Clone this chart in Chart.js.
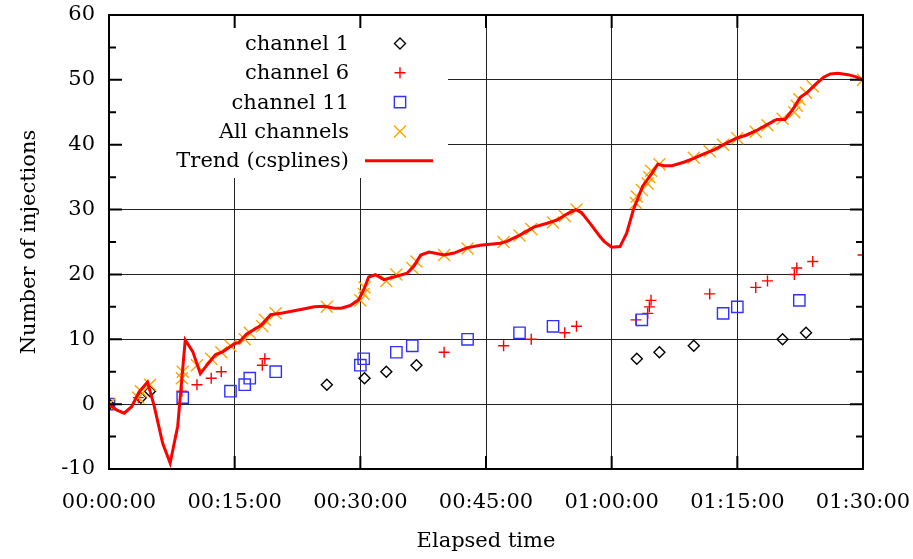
<!DOCTYPE html>
<html>
<head>
<meta charset="utf-8">
<script src="https://cdn.jsdelivr.net/npm/chart.js@4/dist/chart.umd.min.js"></script>
<style>
  html, body { margin: 0; padding: 0; background: #fff; }
  canvas { display: block; }
</style>
</head>
<body>
<canvas id="injChart" width="913" height="559"></canvas>
<script>
// elapsed time in minutes, counts
const ch1Times  = [0, 3.8, 4.9, 26.0, 30.5, 33.1, 36.7, 63.0, 65.7, 69.8, 80.4, 83.2];
const ch1Counts = [0, 1, 2, 3, 4, 5, 6, 7, 8, 9, 10, 11];

const ch6Times  = [0, 3.5, 8.7, 10.5, 12.2, 13.4, 18.3, 18.6, 40.0, 47.1, 50.4, 54.4, 55.8,
                   62.9, 64.3, 64.5, 64.7, 71.7, 77.2, 78.6, 81.8, 82.1, 84.0, 90.0];
const ch6Counts = [0, 1, 2, 3, 4, 5, 6, 7, 8, 9, 10, 11, 12,
                   13, 14, 15, 16, 17, 18, 19, 20, 21, 22, 23];

const ch11Times  = [0, 8.8, 14.5, 16.2, 16.8, 19.9, 30.0, 30.4, 34.3, 36.2, 42.8, 49.0, 53.0,
                    63.6, 73.3, 75.0, 82.4];
const ch11Counts = [0, 1, 2, 3, 4, 5, 6, 7, 8, 9, 10, 11, 12,
                    13, 14, 15, 16];

const allTimes  = [0, 3.5, 3.8, 4.9, 8.7, 8.8, 10.5, 12.2, 13.4, 14.5, 16.2, 16.8, 18.3, 18.6, 19.9,
                   26.0, 30.0, 30.4, 30.5, 33.1, 34.3, 36.2, 36.7, 40.0, 42.8, 47.1, 49.0, 50.4,
                   53.0, 54.4, 55.8, 62.9, 63.0, 63.6, 64.3, 64.5, 64.7, 65.7, 69.8, 71.7, 73.3,
                   75.0, 77.2, 78.6, 80.4, 81.8, 82.1, 82.4, 83.2, 84.0, 90.0];
const allCounts = [0, 1, 2, 3, 4, 5, 6, 7, 8, 9, 10, 11, 12, 13, 14,
                   15, 16, 17, 18, 19, 20, 21, 22, 23, 24, 25, 26, 27,
                   28, 29, 30, 31, 32, 33, 34, 35, 36, 37, 38, 39, 40,
                   41, 42, 43, 44, 45, 46, 47, 48, 49, 50];

// trend curve (csplines)
const trendTimes  = [0, 0.9, 1.8, 2.7, 3.6, 4.6, 5.4, 6.4, 7.3, 8.2, 9.1, 10.0, 10.9, 11.8, 12.7,
                     13.6, 14.5, 15.1, 15.5, 16.4, 18.2, 19.3, 20.7, 22.9, 24.5, 25.7, 26.9, 27.7,
                     28.8, 29.8, 30.4, 31.0, 31.8, 32.8, 34.0, 35.6, 36.4, 37.2, 38.2, 40.0, 41.2,
                     42.7, 44.3, 46.7, 47.5, 49.1, 50.7, 52.3, 53.5, 54.7, 55.7, 56.4, 57.4, 58.6,
                     59.1, 60.0, 61.0, 61.8, 62.6, 63.7, 64.8, 65.5, 66.2, 67.2, 68.6, 69.8, 71.0,
                     72.2, 73.7, 74.9, 76.1, 77.3, 78.5, 79.7, 80.7, 81.6, 82.5, 83.3, 84.5, 85.3,
                     86.1, 87.0, 88.2, 89.1, 90.0];
const trendValues = [0, -0.9, -1.4, -0.4, 1.9, 3.4, -0.3, -6.0, -9.1, -3.4, 9.9, 8.1, 4.7, 6.2, 7.6,
                     8.1, 8.9, 9.4, 9.5, 10.8, 12.2, 13.8, 14.05, 14.6, 15.0, 15.1, 14.8, 14.8,
                     15.2, 16.1, 17.6, 19.6, 19.95, 19.2, 19.6, 20.2, 21.3, 23.0, 23.45, 23.0, 23.3,
                     24.1, 24.5, 24.8, 25.1, 26.1, 27.3, 27.9, 28.4, 29.35, 30.0, 29.55, 27.9, 25.85,
                     25.1, 24.2, 24.3, 26.4, 30.0, 33.6, 35.6, 37.0, 36.75, 36.75, 37.3, 37.9, 38.6,
                     39.2, 40.25, 41.0, 41.5, 42.2, 43.05, 43.9, 43.9, 45.4, 47.3, 48.0, 49.5, 50.4,
                     50.9, 51.0, 50.8, 50.5, 50.0];

const xTicks = [0, 15, 30, 45, 60, 75, 90];

const FONT = "'DejaVu Serif', 'Liberation Serif', serif";

function pts(xs, ys) {
  return xs.map((x, i) => ({ x: x, y: ys[i] }));
}

function fmtTime(m) {
  const h = Math.floor(m / 60);
  const mm = m % 60;
  return String(h).padStart(2, '0') + ':' + String(mm).padStart(2, '0') + ':00';
}

const legendItems = [
  { text: 'channel 1', style: 'rectRot', radius: 5.5, color: '#000000' },
  { text: 'channel 6', style: 'cross', radius: 5.5, color: '#ff0000' },
  { text: 'channel 11', style: 'rect', radius: 8, color: '#3030ff' },
  { text: 'All channels', style: 'crossRot', radius: 8.5, color: '#ffa500' },
  { text: 'Trend (csplines)', style: 'line', color: '#ff0000' },
];

// key box drawn over the grid, like gnuplot's opaque key
const keyPlugin = {
  id: 'keyBox',
  beforeDatasetsDraw(chart) {
    const ctx = chart.ctx;
    const a = chart.chartArea;
    ctx.save();
    ctx.fillStyle = '#fff';
    ctx.fillRect(a.left + 1, a.top + 1, 447 - a.left, 177 - a.top);
    ctx.font = '21px ' + FONT;
    ctx.textAlign = 'right';
    ctx.textBaseline = 'middle';
    legendItems.forEach((it, i) => {
      const y = 43.5 + i * 29.3;
      ctx.fillStyle = '#000';
      ctx.fillText(it.text, 349, y + 1);
      if (it.style === 'line') {
        ctx.strokeStyle = it.color;
        ctx.lineWidth = 3;
        ctx.beginPath();
        ctx.moveTo(365, y);
        ctx.lineTo(433, y);
        ctx.stroke();
      } else {
        ctx.strokeStyle = it.color;
        ctx.fillStyle = 'rgba(0,0,0,0)';
        ctx.lineWidth = 1.4;
        Chart.helpers.drawPoint(ctx, { pointStyle: it.style, radius: it.radius, borderWidth: 1.4, rotation: 0 }, 400, y);
      }
    });
    ctx.restore();
  },
  afterDraw(chart) {
    const ctx = chart.ctx;
    const a = chart.chartArea;
    const xs = chart.scales.x, ys = chart.scales.y;
    ctx.save();
    ctx.strokeStyle = '#000';
    ctx.lineWidth = 2;
    ctx.beginPath();
    // major x ticks, inward on bottom and top
    xTicks.forEach(v => {
      const px = xs.getPixelForValue(v);
      ctx.moveTo(px, a.bottom); ctx.lineTo(px, a.bottom - 13);
      ctx.moveTo(px, a.top); ctx.lineTo(px, a.top + 13);
    });
    // y ticks, major every 10, minor every 5
    for (let v = -10; v <= 60; v += 5) {
      const py = ys.getPixelForValue(v);
      const len = (v % 10 === 0) ? 13 : 7;
      ctx.moveTo(a.left, py); ctx.lineTo(a.left + len, py);
      ctx.moveTo(a.right, py); ctx.lineTo(a.right - len, py);
    }
    ctx.stroke();
    ctx.strokeRect(a.left, a.top, a.right - a.left, a.bottom - a.top);
    ctx.restore();
  }
};

const injChart = new Chart(document.getElementById('injChart'), {
  type: 'scatter',
  data: {
    datasets: [
      {
        label: 'Trend (csplines)',
        type: 'line',
        data: pts(trendTimes, trendValues),
        borderColor: '#ff0000',
        borderWidth: 3,
        pointRadius: 0,
        tension: 0,
        fill: false,
        order: 0,
      },
      {
        label: 'All channels',
        data: pts(allTimes, allCounts),
        pointStyle: 'crossRot',
        pointRadius: 8.5,
        borderColor: '#ffa500',
        backgroundColor: 'rgba(0,0,0,0)',
        borderWidth: 1.4,
        order: 1,
      },
      {
        label: 'channel 11',
        data: pts(ch11Times, ch11Counts),
        pointStyle: 'rect',
        pointRadius: 8,
        borderColor: '#3030ff',
        backgroundColor: 'rgba(0,0,0,0)',
        borderWidth: 1.4,
        order: 2,
      },
      {
        label: 'channel 6',
        data: pts(ch6Times, ch6Counts),
        pointStyle: 'cross',
        pointRadius: 5.5,
        borderColor: '#ff0000',
        borderWidth: 1.4,
        order: 3,
      },
      {
        label: 'channel 1',
        data: pts(ch1Times, ch1Counts),
        pointStyle: 'rectRot',
        pointRadius: 5.5,
        borderColor: '#000000',
        backgroundColor: 'rgba(0,0,0,0)',
        borderWidth: 1.4,
        order: 4,
      },
    ],
  },
  options: {
    responsive: false,
    animation: false,
    events: [],
    layout: { padding: { top: 15, right: 50, left: 0, bottom: 0 } },
    plugins: {
      legend: { display: false },
      tooltip: { enabled: false },
    },
    scales: {
      x: {
        type: 'linear',
        min: 0,
        max: 90,
        afterFit(scale) {
          scale.height = 90;
          scale.paddingLeft = 0;
          scale.paddingRight = 0;
        },
        afterBuildTicks(scale) { scale.ticks = xTicks.map(v => ({ value: v })); },
        ticks: {
          callback: v => fmtTime(v),
          color: '#000',
          padding: 21,
          maxRotation: 0,
          autoSkip: false,
          font: { family: FONT, size: 21 },
        },
        grid: { color: '#222', lineWidth: 1, drawTicks: false },
        border: { display: false },
        title: {
          display: true,
          text: 'Elapsed time',
          color: '#000',
          padding: { top: 0, bottom: 5 },
          font: { family: FONT, size: 21 },
        },
      },
      y: {
        min: -10,
        max: 60,
        afterFit(scale) {
          scale.width = 109;
          scale.paddingTop = 0;
          scale.paddingBottom = 0;
        },
        ticks: {
          stepSize: 10,
          color: '#000',
          padding: 14,
          font: { family: FONT, size: 21 },
        },
        grid: { color: '#222', lineWidth: 1, drawTicks: false },
        border: { display: false },
        title: {
          display: true,
          text: 'Number of injections',
          color: '#000',
          padding: { top: 17, bottom: 0 },
          font: { family: FONT, size: 21 },
        },
      },
    },
  },
  plugins: [keyPlugin],
});
</script>
</body>
</html>
